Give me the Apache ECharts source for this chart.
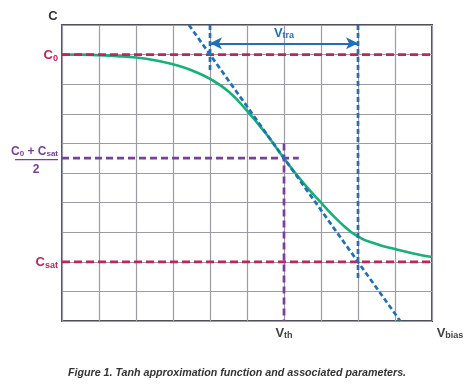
<!DOCTYPE html>
<html>
<head>
<meta charset="utf-8">
<script src="https://cdn.jsdelivr.net/npm/echarts@6/dist/echarts.min.js"></script>
<style>
html,body{margin:0;padding:0;background:#fff;}
#chart{width:474px;height:392px;}
</style>
</head>
<body>
<div id="chart"></div>
<script>
// ---- data (axis units: 10 columns x 10 rows) ----
const curveX = [0, 0.5, 1, 1.5, 2, 2.5, 3, 3.5, 4, 4.5, 5, 5.5, 6, 6.5, 7, 7.5, 8, 8.5, 9, 9.5, 10];
const curveC = [9.0, 9.0, 8.98, 8.95, 8.9, 8.81, 8.67, 8.47, 8.18, 7.75, 7.1, 6.35, 5.5, 4.7, 4.0, 3.35, 2.85, 2.6, 2.43, 2.28, 2.16];
const C0 = 9;
const Csat = 2;
const Cmid = 5.5;
const Vth = 6;
const VtraStart = 4;
const VtraEnd = 8;
const arrowLevel = 9.38;
const tangentPts = [[3.43, 10], [9.14, 0]];
const leftBlueEnd = 8.45;
const rightBlueEnd = 1.45;
const midHorizEnd = 6.4;
const midVertTop = 6.0;
const xMin = 0, xMax = 10, yMin = 0, yMax = 10;

const RED = '#c0245a';
const BLUE = '#1f6fb9';
const PURPLE = '#7a3da0';
const GREEN = '#17b078';
const FONT = '"Liberation Sans", Arial, sans-serif';

const chart = echarts.init(document.getElementById('chart'));

function dashed(data, color, dash, width) {
  return {
    type: 'line', data: data, showSymbol: false, symbol: 'none', silent: true,
    lineStyle: {color: color, width: width || 2.7, type: dash}, z: 5, animation: false
  };
}

const option = {
  animation: false,
  grid: {left: 62, top: 25, right: 42, bottom: 71, show: true, borderColor: '#50505a', borderWidth: 2, backgroundColor: 'transparent'},
  xAxis: {
    type: 'value', min: xMin, max: xMax, interval: 1,
    axisLine: {show: false}, axisTick: {show: false}, axisLabel: {show: false},
    splitLine: {show: true, lineStyle: {color: '#9c9ca8', width: 1.2}}
  },
  yAxis: {
    type: 'value', min: yMin, max: yMax, interval: 1,
    axisLine: {show: false}, axisTick: {show: false}, axisLabel: {show: false},
    splitLine: {show: true, lineStyle: {color: '#9c9ca8', width: 1.2}}
  },
  series: [
    {
      type: 'line', smooth: 0.5, showSymbol: false, symbol: 'none', silent: true,
      data: curveX.map((x, i) => [x, curveC[i]]),
      lineStyle: {color: GREEN, width: 2.6}, z: 3
    },
    dashed([[xMin, C0], [xMax, C0]], RED, [8, 4]),
    dashed([[xMin, Csat], [xMax, Csat]], RED, [8, 4]),
    dashed([[xMin, Cmid], [midHorizEnd, Cmid]], PURPLE, [7, 4]),
    dashed([[Vth, midVertTop], [Vth, yMin]], PURPLE, [7, 4]),
    dashed(tangentPts, BLUE, [5, 3]),
    dashed([[VtraStart, yMax], [VtraStart, leftBlueEnd]], BLUE, [5, 3]),
    dashed([[VtraEnd, yMax], [VtraEnd, rightBlueEnd]], BLUE, [5, 3]),
    {
      type: 'line', data: [], silent: true,
      markLine: {
        silent: true, animation: false,
        symbol: ['arrow', 'arrow'], symbolSize: [9, 12],
        lineStyle: {color: BLUE, width: 2, type: 'solid'},
        label: {show: false},
        data: [[{coord: [VtraStart, arrowLevel]}, {coord: [VtraEnd, arrowLevel]}]]
      }
    }
  ]
};
chart.setOption(option);

function px(x, y) { return chart.convertToPixel({gridIndex: 0}, [x, y]); }

const subRich = (color, size) => ({
  m: {fontFamily: FONT, fontWeight: 'bold', fontSize: size, fill: color, color: color},
  s: {fontFamily: FONT, fontWeight: 'bold', fontSize: Math.round(size * 0.68), fill: color, color: color, padding: [Math.round(size*0.45), 0, 0, 0]}
});

function richText(text, x, y, color, size, align) {
  return {
    type: 'text', x: x, y: y, silent: true, z: 20,
    style: {text: text, fill: color, font: 'bold ' + size + 'px ' + FONT, align: align || 'center', verticalAlign: 'middle', rich: subRich(color, size)}
  };
}

const pC0 = px(xMin, C0);
const pCs = px(xMin, Csat);
const pMid = px(xMin, Cmid);
const pVth = px(Vth, yMin);
const pEnd = px(xMax, yMin);
const pTop = px(xMin, yMax);
const pTra = px((VtraStart + VtraEnd) / 2, yMax);

const graphics = [
  {type: 'text', x: pTop[0] - 9, y: pTop[1] - 9, silent: true,
   style: {text: 'C', fill: '#333', font: 'bold 13px ' + FONT, align: 'center', verticalAlign: 'middle'}},
  richText('{m|C}{s|0}', pC0[0] - 4, pC0[1] + 1, RED, 13, 'right'),
  richText('{m|C}{s|sat}', pCs[0] - 4, pCs[1] + 1, RED, 13, 'right'),
  richText('{m|C}{s|0}{m| + C}{s|sat}', pMid[0] - 4, pMid[1] - 7, PURPLE, 12, 'right'),
  {type: 'line', silent: true, shape: {x1: pMid[0] - 47, y1: pMid[1] + 1.5, x2: pMid[0] - 4, y2: pMid[1] + 1.5}, style: {stroke: PURPLE, lineWidth: 1.3}},
  {type: 'text', x: pMid[0] - 26, y: pMid[1] + 11, silent: true,
   style: {text: '2', fill: PURPLE, font: 'bold 12px ' + FONT, align: 'center', verticalAlign: 'middle'}},
  richText('{m|V}{s|th}', pVth[0], pVth[1] + 12, '#444', 13, 'center'),
  richText('{m|V}{s|bias}', pEnd[0] + 18, pEnd[1] + 12, '#444', 13, 'center'),
  richText('{m|V}{s|tra}', pTra[0], pTra[1] + 8, BLUE, 13, 'center'),
  {type: 'text', x: 237, y: 373, silent: true,
   style: {text: 'Figure 1. Tanh approximation function and associated parameters.', fill: '#333', font: 'italic bold 10.7px ' + FONT, align: 'center', verticalAlign: 'middle'}}
];
chart.setOption({graphic: graphics});
</script>
</body>
</html>
